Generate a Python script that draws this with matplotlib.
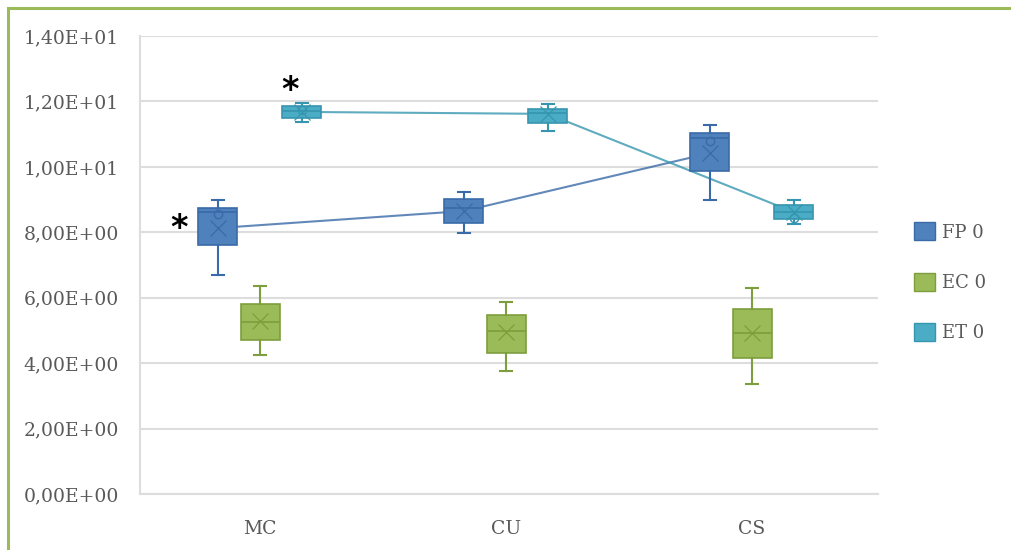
import matplotlib.pyplot as plt
from matplotlib.lines import Line2D
from matplotlib.patches import Patch
from matplotlib.ticker import FuncFormatter

# categories and series
categorias = ["MC", "CU", "CS"]
series = ["FP 0", "EC 0", "ET 0"]

# box statistics per series: one value per category (MC, CU, CS)
fp_min = [6.7, 7.98, 8.99]
fp_q1 = [7.6, 8.29, 9.88]
fp_med = [8.62, 8.75, 10.88]
fp_q3 = [8.75, 9.02, 11.04]
fp_max = [9.0, 9.23, 11.28]
fp_media = [8.13, 8.65, 10.42]
fp_puntos = [8.55, None, 10.8]

ec_min = [4.25, 3.76, 3.36]
ec_q1 = [4.71, 4.31, 4.16]
ec_med = [5.27, 4.98, 4.92]
ec_q3 = [5.82, 5.47, 5.66]
ec_max = [6.36, 5.87, 6.3]
ec_media = [5.3, 4.95, 4.92]
ec_puntos = [None, None, None]

et_min = [11.36, 11.1, 8.26]
et_q1 = [11.49, 11.34, 8.41]
et_med = [11.7, 11.65, 8.62]
et_q3 = [11.87, 11.77, 8.84]
et_max = [11.95, 11.93, 8.99]
et_media = [11.68, 11.62, 8.62]
et_puntos = [11.75, None, 8.45]

datos = [
    (fp_min, fp_q1, fp_med, fp_q3, fp_max, fp_media, fp_puntos),
    (ec_min, ec_q1, ec_med, ec_q3, ec_max, ec_media, ec_puntos),
    (et_min, et_q1, et_med, et_q3, et_max, et_media, et_puntos),
]
relleno = ["#4F81BD", "#9BBB59", "#4BACC6"]
borde = ["#3A6BA8", "#7E9E3E", "#3796AF"]
desplaz = [-0.172, 0.0, 0.169]
con_linea = [True, False, True]

gris = "#595959"
fuente = "DejaVu Serif"

fig = plt.figure(figsize=(10.11, 5.5), dpi=100)
ax = fig.add_axes([0.1385, 0.1018, 0.730, 0.8327])

for i in range(3):
    mn, q1, md, q3, mx, media, puntos = datos[i]
    xs = [k + desplaz[i] for k in range(len(categorias))]
    stats = []
    for k in range(len(categorias)):
        stats.append({"whislo": mn[k], "q1": q1[k], "med": md[k], "q3": q3[k],
                      "whishi": mx[k], "mean": media[k], "fliers": []})
    ax.bxp(stats, positions=xs, widths=0.158, patch_artist=True, showfliers=False,
           showmeans=False,
           boxprops=dict(facecolor=relleno[i], edgecolor=borde[i], linewidth=1.2),
           medianprops=dict(color=borde[i], linewidth=1.2),
           whiskerprops=dict(color=borde[i], linewidth=1.5),
           capprops=dict(color=borde[i], linewidth=1.5),
           capwidths=0.05, zorder=3)
    # mean marker
    ax.plot(xs, media, linestyle="none", marker="x", markersize=11,
            markeredgewidth=0.9, color=borde[i], zorder=4)
    # inner points
    px = [xs[k] for k in range(len(puntos)) if puntos[k] is not None]
    py = [p for p in puntos if p is not None]
    ax.plot(px, py, linestyle="none", marker="o", markersize=6, markerfacecolor="none",
            markeredgewidth=1.0, color=borde[i], zorder=4)
    # mean line
    if con_linea[i]:
        ax.plot(xs, media, color=borde[i], linewidth=1.5, alpha=0.8, zorder=2)

ax.set_xlim(-0.488, 2.512)
ax.set_ylim(0, 14)
ax.set_yticks([0, 2, 4, 6, 8, 10, 12, 14])
ax.yaxis.set_major_formatter(FuncFormatter(lambda v, p: "{:.2E}".format(v).replace(".", ",")))
ax.set_xticks(range(len(categorias)))
ax.set_xticklabels(categorias)
ax.grid(axis="y", color="#dddddd", linewidth=1.5, zorder=0)
ax.set_axisbelow(True)
ax.tick_params(length=0)
ax.tick_params(axis="y", pad=15)
ax.tick_params(axis="x", pad=19)
for lab in ax.get_xticklabels() + ax.get_yticklabels():
    lab.set_fontfamily(fuente)
    lab.set_fontsize(13.5)
    lab.set_color(gris)
for lado in ["top", "right"]:
    ax.spines[lado].set_visible(False)
for lado in ["left", "bottom"]:
    ax.spines[lado].set_color("#dddddd")
    ax.spines[lado].set_linewidth(1.5)

# significance marks
ax.text(-0.33, 8.13, "*", fontsize=24, fontweight="bold", ha="center", va="center", color="black")
ax.text(0.12, 12.35, "*", fontsize=24, fontweight="bold", ha="center", va="center", color="black")

manijas = [Patch(facecolor=relleno[i], edgecolor=borde[i], linewidth=1.0) for i in range(3)]
leg = fig.legend(manijas, series, loc="center left", bbox_to_anchor=(0.895, 0.487),
                 frameon=False, handlelength=1.15, handleheight=1.15, handletextpad=0.4,
                 labelspacing=1.72, borderpad=0, prop={"family": fuente, "size": 13})
for t in leg.get_texts():
    t.set_color(gris)

# green outer border
fig.add_artist(Line2D([0.008, 1.0], [0.985, 0.985], transform=fig.transFigure,
                      color="#9BBB59", linewidth=2.2))
fig.add_artist(Line2D([0.008, 0.008], [0.0, 0.985], transform=fig.transFigure,
                      color="#9BBB59", linewidth=2.2))

fig.savefig("out.png", dpi=100)
